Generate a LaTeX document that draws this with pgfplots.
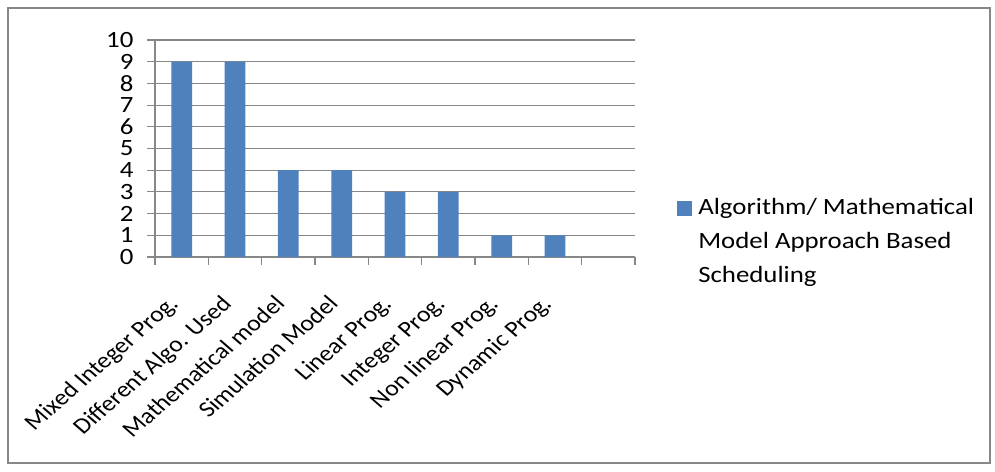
\documentclass[border=0pt]{standalone}
\usepackage{pgfplots}
\pgfplotsset{compat=1.18}
\usepackage{fontspec}
\setmainfont{Carlito}[FakeStretch=1.15]
\newfontfamily\plainfont{Carlito}
\definecolor{barblue}{HTML}{4F81BD}
\definecolor{gridgray}{HTML}{878787}
\begin{document}
\begin{tikzpicture}
\path (0,0) rectangle (746.25pt,353.25pt);
\draw[gridgray, line width=0.8pt] (6pt,6pt) rectangle (742.5pt,347.25pt);
\begin{axis}[
  at={(116.25pt,160.5pt)}, anchor=south west,
  scale only axis, width=360pt, height=162.75pt,
  xmin=-0.5, xmax=8.5, ymin=0, ymax=10,
  axis x line=bottom, axis y line=left,
  axis line style={gridgray, line width=0.8pt, -},
  ytick={0,...,10},
  ymajorgrids, grid style={gridgray, line width=0.8pt},
  xtick={-0.5,0.5,...,8.5}, xticklabels={},
  extra x ticks={0,...,7},
  extra x tick labels={Mixed Integer Prog., Different Algo. Used, Mathematical model, Simulation Model, Linear Prog., Integer Prog., Non linear Prog., Dynamic Prog.},
  extra x tick style={major tick length=0pt, grid=none,
    tick label style={font=\plainfont\fontsize{16.8}{20}\selectfont,
      xshift=-1.5pt, yshift=-36pt, xscale=1.15, rotate=45, anchor=base east, inner sep=0pt}},
  tick style={gridgray, line width=0.8pt},
  major tick length=6pt,
  tick align=outside,
  /pgf/number format/assume math mode=true,
  tick label style={font=\fontsize{17.5}{21}\selectfont},
  yticklabel style={inner sep=0pt, xshift=-10pt},
  legend style={draw=none, inner sep=0pt, at={(1.0875,0.3044)}, anchor=north west,
    font=\fontsize{17.5}{25.3}\selectfont,
    nodes={inner sep=0pt}},
  legend image code/.code={\fill[barblue] (0pt,-9pt) rectangle (11.25pt,2.25pt); \path (15.75pt,0pt);},
]
\addplot[ybar, bar width=0.39, fill=barblue, draw=none]
  coordinates {(0,9) (1,9) (2,4) (3,4) (4,3) (5,3) (6,1) (7,1)};
\addlegendentry{\begin{tabular}[t]{@{}l@{}}Algorithm/ Mathematical\\Model Approach Based\\Scheduling\end{tabular}}
\end{axis}
\end{tikzpicture}
\end{document}
